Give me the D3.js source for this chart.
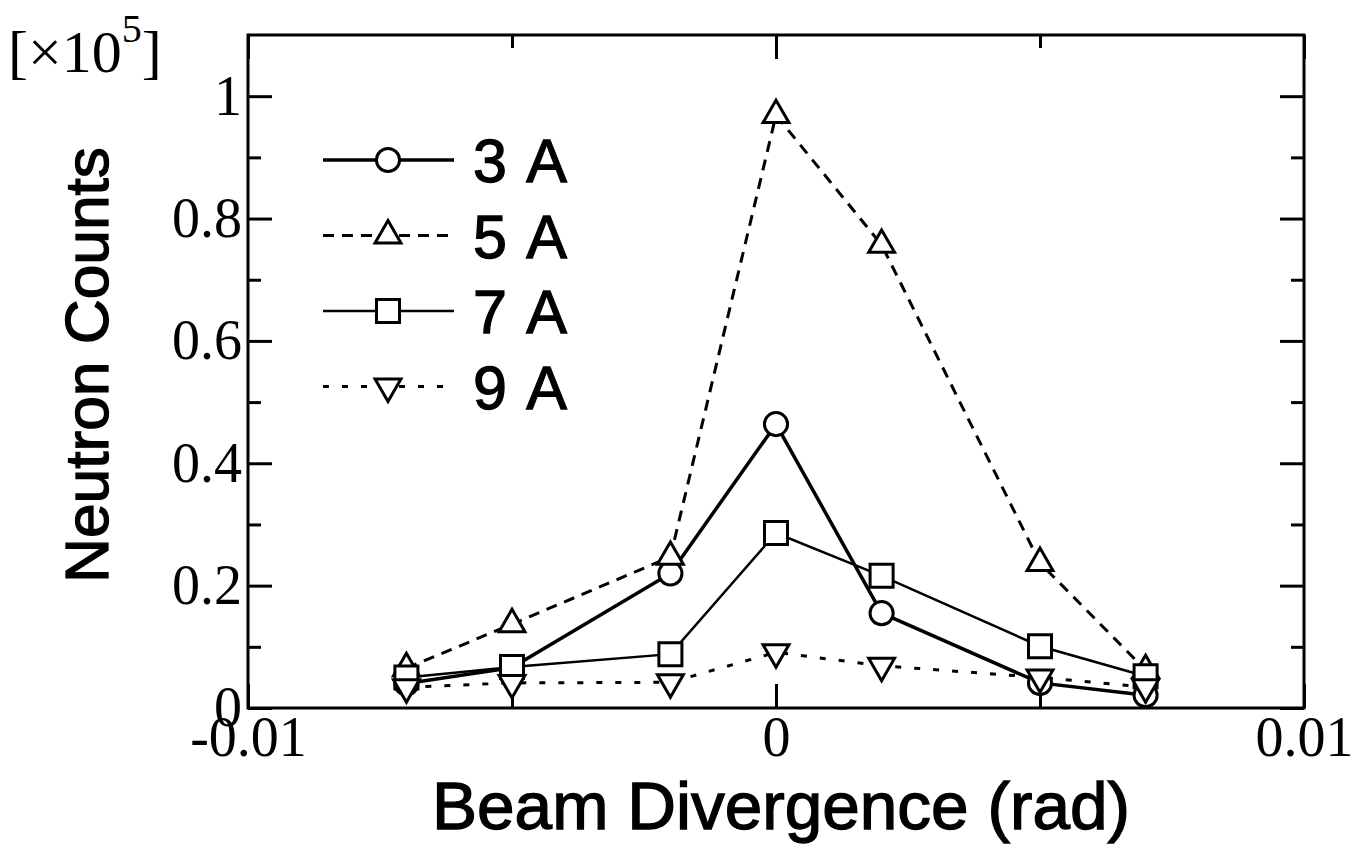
<!DOCTYPE html>
<html lang="en">
<head>
<meta charset="UTF-8">
<title>Neutron counts vs beam divergence</title>
<script src="https://d3js.org/d3.v7.min.js"></script>
<style>
    body { margin: 0; background: #fff; }
    svg { display: block; }
    .tick text { font-family: "Liberation Serif", "Times New Roman", serif; font-size: 56px; fill: #000; }
    .title { font-family: "Liberation Sans", Arial, sans-serif; fill: #000; stroke: #000; stroke-width: 1.3px; }
</style>
</head>
<body>
<svg width="1365" height="862"></svg>
<script>
// divergence positions (rad)
const divergence = [-0.007, -0.005, -0.002, 0, 0.002, 0.005, 0.007];

// counts in units of 1e5
const counts3A = [0.040, 0.066, 0.220, 0.464, 0.155, 0.041, 0.021];
const counts5A = [0.065, 0.137, 0.247, 0.969, 0.757, 0.237, 0.062];
const counts7A = [0.050, 0.067, 0.088, 0.286, 0.216, 0.101, 0.052];
const counts9A = [0.034, 0.041, 0.042, 0.091, 0.069, 0.050, 0.034];

const seriesNames = ['3 A', '5 A', '7 A', '9 A'];

const xMajor = [-0.01, 0, 0.01];
const xMinor = [-0.005, 0.005];
const yMajor = [0, 0.2, 0.4, 0.6, 0.8, 1];
const yMinor = [0.1, 0.3, 0.5, 0.7, 0.9];

const margin = { top: 35, right: 61, bottom: 154, left: 248 };
const width = 1365, height = 862;

const x = d3.scaleLinear().domain([-0.01, 0.01]).range([margin.left, width - margin.right]);
const y = d3.scaleLinear().domain([0, 1.1]).range([height - margin.bottom, margin.top]);

const svg = d3.select('svg');

// styles per series (order follows seriesNames)
const styles = [
    { data: counts3A, sym: d3.symbolCircle, size: 420, rot: 0, width: 3.5, dash: null },
    { data: counts5A, sym: d3.symbolTriangle, size: 290, rot: 0, width: 3, dash: '11,8' },
    { data: counts7A, sym: d3.symbolSquare, size: 530, rot: 0, width: 2.5, dash: null },
    { data: counts9A, sym: d3.symbolTriangle, size: 290, rot: 180, width: 3, dash: '6,13' }
];

const line = d3.line().x((d, i) => x(divergence[i])).y(d => y(d));

// frame
svg.append('rect')
    .attr('x', x(-0.01)).attr('y', y(1.1))
    .attr('width', x(0.01) - x(-0.01)).attr('height', y(0) - y(1.1))
    .attr('fill', 'none').attr('stroke', '#000').attr('stroke-width', 3);

// axes with inward ticks
function drawAxis(axis, transform, showLabels) {
    const g = svg.append('g').attr('transform', transform).call(axis);
    g.select('.domain').remove();
    g.selectAll('.tick line').attr('stroke-width', 3);
    if (!showLabels) g.selectAll('.tick text').remove();
    g.attr('font-family', null).attr('font-size', null);
    return g;
}

// plain hyphen for the minus, like the original
const fmtX = d => d === 0 ? '0' : d3.format('.2f')(d).replace('\u2212', '-');
const fmtY = d => d === 0 ? '0' : d === 1 ? '1' : d3.format('.1f')(d);

drawAxis(d3.axisBottom(x).tickValues(xMajor).tickSize(-24).tickPadding(8).tickFormat(fmtX), `translate(0,${y(0)})`, true);
drawAxis(d3.axisBottom(x).tickValues(xMinor).tickSize(-13).tickFormat(''), `translate(0,${y(0)})`, false);
drawAxis(d3.axisTop(x).tickValues(xMajor).tickSize(-24), `translate(0,${y(1.1)})`, false);
drawAxis(d3.axisTop(x).tickValues(xMinor).tickSize(-13), `translate(0,${y(1.1)})`, false);

drawAxis(d3.axisLeft(y).tickValues(yMajor).tickSize(-24).tickPadding(6).tickFormat(fmtY), `translate(${x(-0.01)},0)`, true);
drawAxis(d3.axisLeft(y).tickValues(yMinor).tickSize(-13), `translate(${x(-0.01)},0)`, false);
drawAxis(d3.axisRight(y).tickValues(yMajor).tickSize(-24), `translate(${x(0.01)},0)`, false);
drawAxis(d3.axisRight(y).tickValues(yMinor).tickSize(-13), `translate(${x(0.01)},0)`, false);

// series lines and markers
styles.forEach(s => {
    svg.append('path')
        .datum(s.data)
        .attr('d', line)
        .attr('fill', 'none')
        .attr('stroke', '#000')
        .attr('stroke-width', s.width)
        .attr('stroke-dasharray', s.dash);
});

styles.forEach(s => {
    svg.append('g').selectAll('path')
        .data(s.data)
        .enter().append('path')
        .attr('d', d3.symbol(s.sym, s.size))
        .attr('transform', (d, i) => `translate(${x(divergence[i])},${y(d)}) rotate(${s.rot})`)
        .attr('fill', '#fff')
        .attr('stroke', '#000')
        .attr('stroke-width', 3);
});

// legend
const legend = svg.append('g').attr('transform', 'translate(323,160)');
styles.forEach((s, i) => {
    const row = legend.append('g').attr('transform', `translate(0,${i * 75.5})`);
    row.append('line')
        .attr('x1', 0).attr('x2', 131)
        .attr('stroke', '#000').attr('stroke-width', s.width)
        .attr('stroke-dasharray', s.dash);
    row.append('path')
        .attr('d', d3.symbol(s.sym, s.size))
        .attr('transform', `translate(65,0) rotate(${s.rot})`)
        .attr('fill', '#fff').attr('stroke', '#000').attr('stroke-width', 3);
    row.append('text')
        .attr('class', 'title')
        .attr('x', 150).attr('y', 22)
        .style('font-size', '61px')
        .attr('textLength', 94)
        .attr('lengthAdjust', 'spacing')
        .text(seriesNames[i]);
});

// axis titles
svg.append('text')
    .attr('class', 'title')
    .attr('x', x(0) + 5).attr('y', 829)
    .attr('text-anchor', 'middle')
    .style('font-size', '67px')
    .attr('textLength', 698)
    .attr('lengthAdjust', 'spacingAndGlyphs')
    .text('Beam Divergence (rad)');

svg.append('text')
    .attr('class', 'title')
    .attr('transform', 'translate(108,365) rotate(-90)')
    .attr('text-anchor', 'middle')
    .style('font-size', '62px')
    .attr('textLength', 436)
    .attr('lengthAdjust', 'spacingAndGlyphs')
    .text('Neutron Counts');

// multiplier label
const mult = svg.append('text')
    .attr('x', 8).attr('y', 72)
    .attr('font-family', '"Liberation Serif", "Times New Roman", serif')
    .attr('font-size', 60);
mult.append('tspan').text('[\u00d710');
mult.append('tspan').attr('dy', -30).attr('font-size', 40).text('5');
mult.append('tspan').attr('dy', 30).text(']');
</script>
</body>
</html>
